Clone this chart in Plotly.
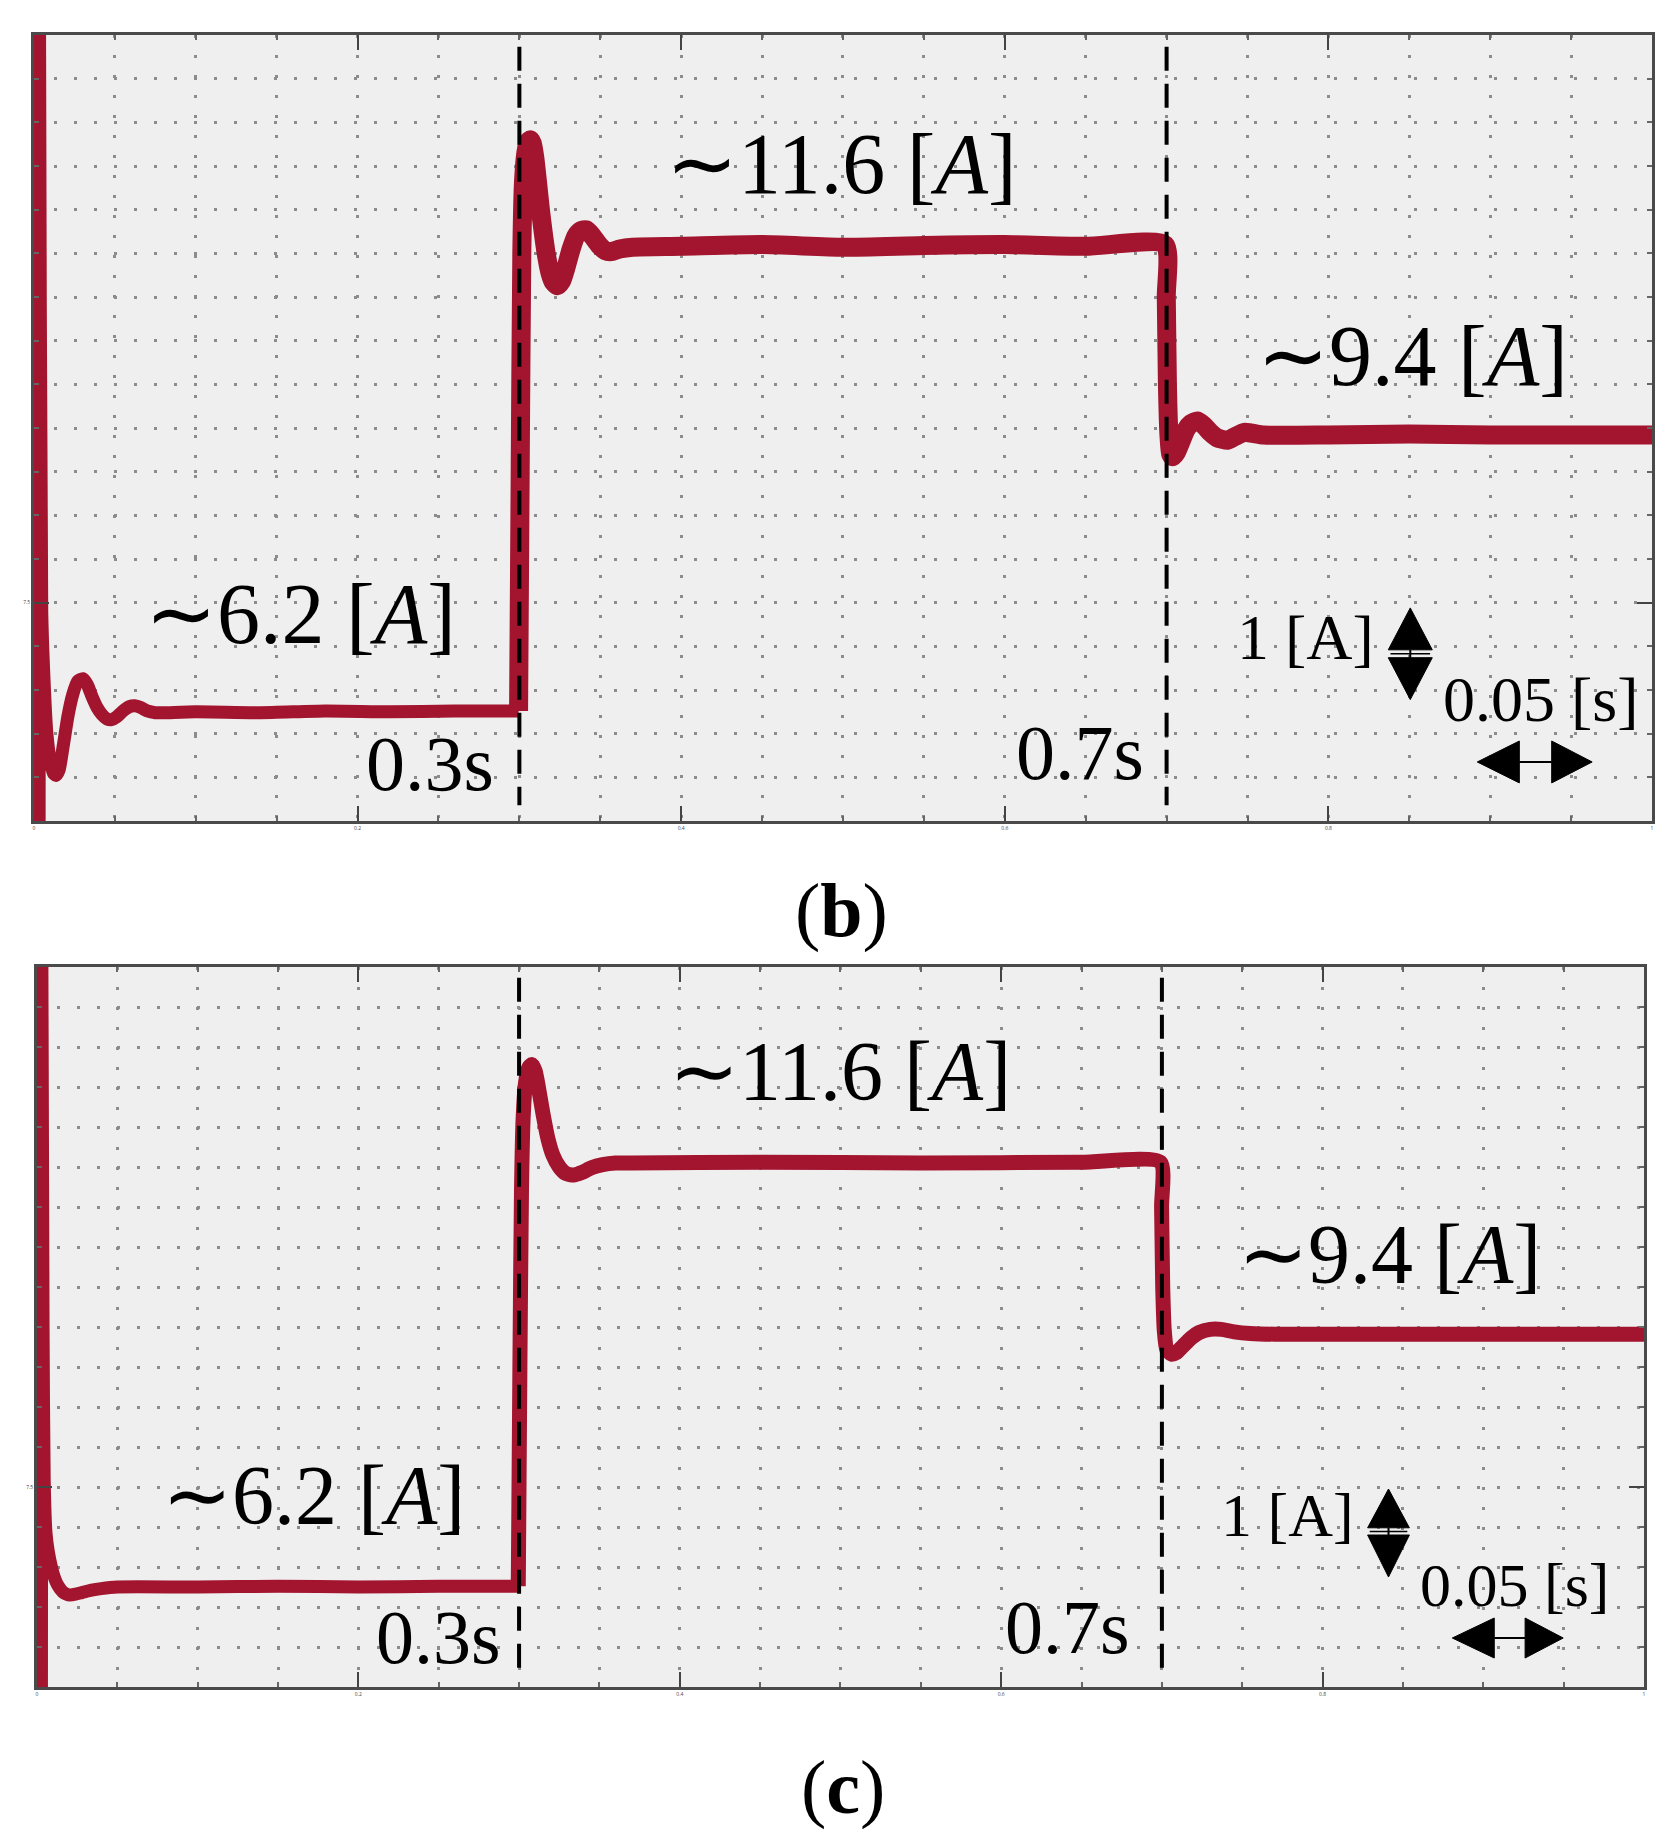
import plotly.graph_objects as go

# measured current, panel (b): time [s], current [A]
b_time = [0.0032, 0.0034, 0.0048, 0.0065, 0.008, 0.010, 0.012, 0.0136, 0.0155, 0.018, 0.021,
          0.024, 0.027, 0.0302, 0.033, 0.036, 0.039, 0.042, 0.045, 0.048, 0.051, 0.055,
          0.059, 0.0623, 0.066, 0.070, 0.075, 0.08, 0.10, 0.14, 0.18, 0.22, 0.26, 0.2995,
          0.3005, 0.3015, 0.3025, 0.304, 0.3055, 0.3068, 0.308, 0.3095, 0.311, 0.313,
          0.315, 0.317, 0.319, 0.321, 0.3235, 0.326, 0.329, 0.332, 0.335, 0.338, 0.3414,
          0.345, 0.349, 0.353, 0.357, 0.362, 0.37, 0.40, 0.45, 0.50, 0.55, 0.60, 0.65, 0.699,
          0.6998, 0.7005, 0.7015, 0.7025, 0.7037, 0.706, 0.709, 0.712, 0.715, 0.719,
          0.723, 0.727, 0.731, 0.7377, 0.742, 0.748, 0.753, 0.76, 0.80, 0.85, 0.90, 0.95, 1.0]
b_current = [4.8, 14.5, 7.4, 6.5, 6.0, 5.7, 5.55, 5.52, 5.58, 5.85, 6.2,
             6.45, 6.6, 6.63, 6.56, 6.42, 6.3, 6.22, 6.17, 6.16, 6.19, 6.26,
             6.31, 6.32, 6.3, 6.26, 6.24, 6.24, 6.25, 6.24, 6.26, 6.25, 6.26, 6.26,
             9.0, 11.5, 12.3, 12.65, 12.78, 12.8, 12.76, 12.6, 12.35, 12.0,
             11.7, 11.45, 11.27, 11.17, 11.13, 11.18, 11.35, 11.55, 11.7, 11.76, 11.77,
             11.7, 11.6, 11.53, 11.52, 11.55, 11.57, 11.58, 11.6, 11.57, 11.59, 11.6, 11.58, 11.6,
             11.0, 10.0, 9.4, 9.2, 9.17, 9.22, 9.35, 9.48, 9.55, 9.58,
             9.53, 9.45, 9.39, 9.36, 9.4, 9.45, 9.44, 9.42, 9.42, 9.43, 9.42, 9.42, 9.42]

# measured current, panel (c)
c_time = [0.0028, 0.003, 0.0038, 0.0045, 0.0056, 0.007, 0.009, 0.011, 0.013, 0.016, 0.0185,
          0.0205, 0.024, 0.028, 0.034, 0.04, 0.05, 0.10, 0.15, 0.20, 0.25, 0.2995,
          0.3005, 0.3015, 0.3025, 0.304, 0.306, 0.308, 0.310, 0.312, 0.315, 0.318, 0.321,
          0.325, 0.329, 0.334, 0.339, 0.345, 0.352, 0.36, 0.37, 0.45, 0.55, 0.65, 0.699,
          0.6998, 0.7005, 0.7015, 0.703, 0.706, 0.709, 0.713, 0.718, 0.723, 0.73, 0.737,
          0.745, 0.755, 0.77, 0.85, 1.0]
c_current = [4.8, 14.5, 9.5, 7.6, 6.93, 6.7, 6.5, 6.36, 6.27, 6.19, 6.16,
             6.15, 6.16, 6.18, 6.21, 6.23, 6.25, 6.25, 6.26, 6.25, 6.26, 6.26,
             9.0, 11.2, 12.1, 12.55, 12.74, 12.78, 12.7, 12.5, 12.15, 11.85, 11.65,
             11.5, 11.42, 11.4, 11.43, 11.49, 11.53, 11.55, 11.55, 11.56, 11.55, 11.56, 11.56,
             11.0, 10.0, 9.45, 9.22, 9.16, 9.18, 9.26, 9.36, 9.43, 9.47, 9.47,
             9.44, 9.42, 9.41, 9.41, 9.41]

step_times = [0.3, 0.7]
x_ticks = [0, 0.2, 0.4, 0.6, 0.8, 1.0]
y_ticks = [7.5]

RED = "#A3142F"
SERIF = "Liberation Serif, Times New Roman, serif"
W, H = 1673, 1842

fig = go.Figure()


def add_current(xa, ya, t, i, w1, w2):
    # thinner before the first step, thicker (noisier) after it
    k = next(n for n, v in enumerate(t) if v >= 0.2995)
    for sl, w in [(slice(0, k + 1), w1), (slice(k, None), w2)]:
        fig.add_trace(go.Scatter(x=t[sl], y=i[sl], mode="lines", xaxis=xa, yaxis=ya,
                                 line=dict(color=RED, width=w, shape="spline", smoothing=0.6),
                                 showlegend=False))


add_current("x", "y", b_time, b_current, 13, 19)
add_current("x2", "y2", c_time, c_current, 13, 15)


def axis_style(domain, rng, tickvals, minor_dtick, anchor):
    return dict(
        domain=domain, range=rng, anchor=anchor,
        tickmode="array", tickvals=tickvals, ticktext=[f"{v:g}" for v in tickvals],
        ticks="inside", ticklen=15, tickwidth=2, tickcolor="#444",
        tickfont=dict(size=5, color="#444"),
        showgrid=True, gridcolor="#8c8c8c", gridwidth=2.5, griddash="3px,17px",
        minor=dict(tickmode="linear", tick0=rng[0], dtick=minor_dtick, ticks="inside", ticklen=5,
                   tickcolor="#666", showgrid=True, gridcolor="#8c8c8c", gridwidth=2.5,
                   griddash="3px,17px"),
        showline=True, linecolor="#4a4a4a", linewidth=2.5, mirror="allticks",
        zeroline=False, fixedrange=True,
    )


fig.update_layout(
    width=W, height=H, margin=dict(l=0, r=0, t=0, b=0),
    paper_bgcolor="white", plot_bgcolor="#efefef",
    xaxis=axis_style([33 / W, 1653 / W], [0, 1], x_ticks, 0.05, "y"),
    yaxis=axis_style([(H - 821) / H, (H - 35) / H], [5, 14], y_ticks, 0.5, "x"),
    xaxis2=axis_style([36 / W, 1645 / W], [0, 1], x_ticks, 0.05, "y2"),
    yaxis2=axis_style([(H - 1687) / H, (H - 967) / H], [5, 14], y_ticks, 0.5, "x2"),
)

shapes = []
for xr, yr in [("x", "y"), ("x2", "y2")]:
    for st in step_times:
        shapes.append(dict(type="line", xref=xr, yref=yr + " domain", x0=st, x1=st, y0=0.985, y1=0.02,
                           line=dict(color="black", width=4, dash="24px,13px")))


def tri(xr, yr, pts):
    path = "M " + " L ".join(f"{px},{py}" for px, py in pts) + " Z"
    return dict(type="path", xref=xr, yref=yr, path=path, fillcolor="black",
                line=dict(color="black", width=1))


def scale_bars(xr, yr, cx, hw, top, ub, lb, bot, hx, hy, hh):
    out = [tri(xr, yr, [(cx - hw, ub), (cx + hw, ub), (cx, top)]),
           tri(xr, yr, [(cx - hw, lb), (cx + hw, lb), (cx, bot)]),
           dict(type="line", xref=xr, yref=yr, x0=cx, x1=cx, y0=ub, y1=lb, line=dict(color="black", width=2)),
           dict(type="line", xref=xr, yref=yr, x0=cx - hw * 0.9, x1=cx + hw * 0.9, y0=(ub + lb) / 2,
                y1=(ub + lb) / 2, line=dict(color="black", width=1.5))]
    a0, a1, a2, a3 = hx
    out += [tri(xr, yr, [(a1, hy - hh), (a1, hy + hh), (a0, hy)]),
            tri(xr, yr, [(a2, hy - hh), (a2, hy + hh), (a3, hy)]),
            dict(type="line", xref=xr, yref=yr, x0=a1, x1=a2, y0=hy, y1=hy, line=dict(color="black", width=2))]
    return out


shapes += scale_bars("x", "y", 0.8506, 0.0136, 7.44, 6.96, 6.87, 6.39,
                     (0.892, 0.918, 0.938, 0.963), 5.676, 0.24)
shapes += scale_bars("x2", "y2", 0.841, 0.013, 7.475, 6.99, 6.90, 6.375,
                     (0.8807, 0.9068, 0.926, 0.9497), 5.6125, 0.25)
fig.update_layout(shapes=shapes)


def label(xr, yr, x, y, text, size):
    fig.add_annotation(xref=xr, yref=yr, x=x, y=y, text=text, showarrow=False,
                       font=dict(family=SERIF, size=size, color="black"),
                       xanchor="center", yanchor="middle")


TILDE = "\u223c"
label("x", "y", 0.4988, 12.52, TILDE + "11.6 [<i>A</i>]", 86)
label("x", "y", 0.1648, 7.37, TILDE + "6.2 [<i>A</i>]", 86)
label("x", "y", 0.8519, 10.33, TILDE + "9.4 [<i>A</i>]", 86)
label("x", "y", 0.245, 5.66, "0.3s", 78)
label("x", "y", 0.6463, 5.79, "0.7s", 78)
label("x", "y", 0.7858, 7.10, "1 [A]", 64)
label("x", "y", 0.9315, 6.39, "0.05 [s]", 64)

label("x2", "y2", 0.4997, 12.70, TILDE + "11.6 [<i>A</i>]", 84)
label("x2", "y2", 0.1722, 7.39, TILDE + "6.2 [<i>A</i>]", 84)
label("x2", "y2", 0.8415, 10.41, TILDE + "9.4 [<i>A</i>]", 84)
label("x2", "y2", 0.2498, 5.625, "0.3s", 76)
label("x2", "y2", 0.6414, 5.75, "0.7s", 76)
label("x2", "y2", 0.778, 7.15, "1 [A]", 62)
label("x2", "y2", 0.9192, 6.28, "0.05 [s]", 62)

label("paper", "paper", 842 / W, (H - 910) / H, "(<b>b</b>)", 76)
label("paper", "paper", 843 / W, (H - 1787) / H, "(<b>c</b>)", 76)

fig.write_html("out.html", config={"displayModeBar": False},
               post_script="document.body.style.margin='0';document.body.style.overflow='hidden';")
